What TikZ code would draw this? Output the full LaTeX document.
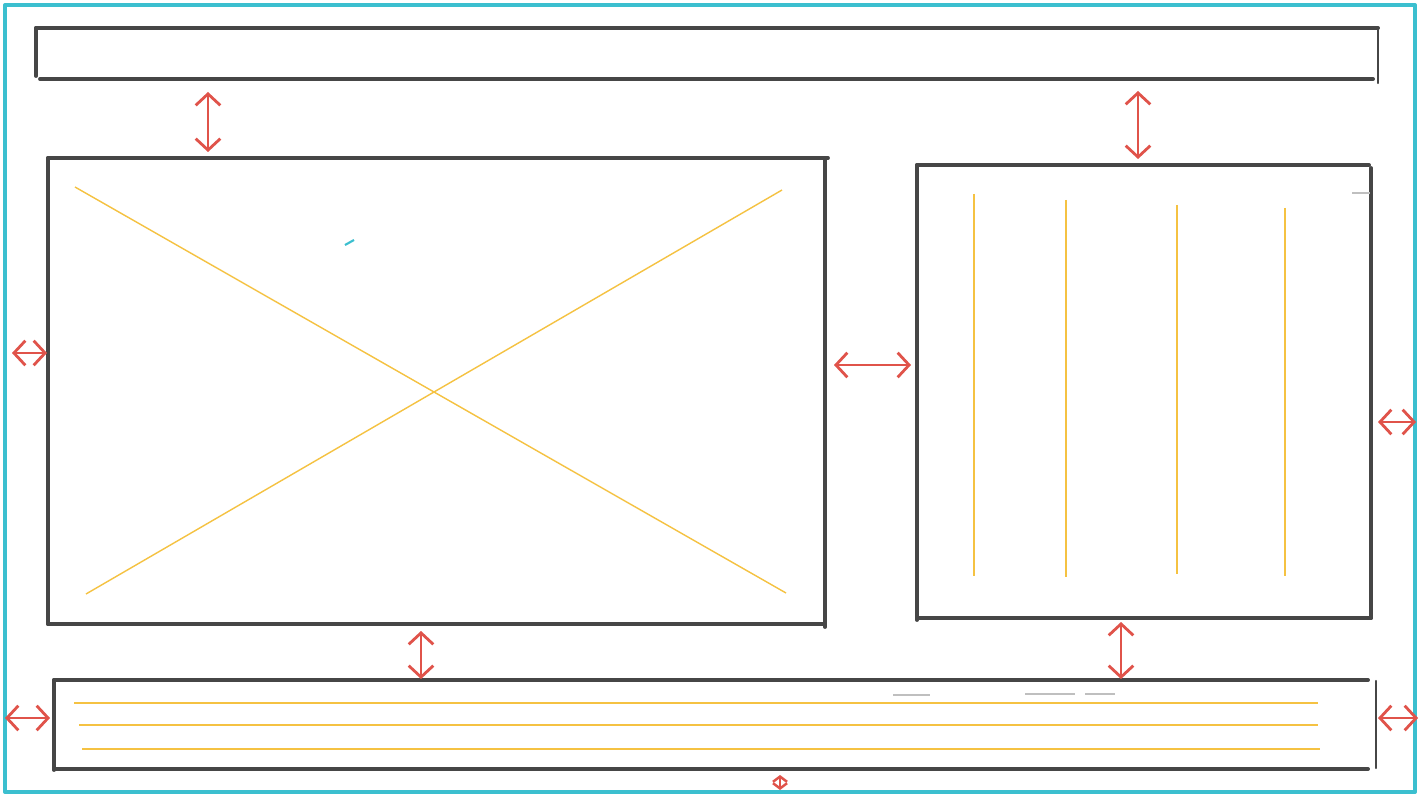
\documentclass[tikz,border=0pt]{standalone}
\usepackage{xcolor}
\usetikzlibrary{arrows.meta}

\definecolor{framecyan}{HTML}{3BBFCF}
\definecolor{pencilgray}{HTML}{464646}
\definecolor{filleryellow}{HTML}{F5C242}
\definecolor{gapred}{HTML}{E0534A}

\tikzset{
  frame/.style={line width=2.3pt, framecyan, line join=round},
  panel/.style={line width=2.2pt, pencilgray, line cap=round},
  filler/.style={line width=0.8pt, filleryellow},
  gap/.style={line width=1.6pt, gapred, line cap=round,
    {Straight Barb[length=6.5pt, width=14pt]}-{Straight Barb[length=6.5pt, width=14pt]}},
  smallgap/.style={line width=1.4pt, gapred, line cap=round,
    {Straight Barb[length=3pt, width=8pt]}-{Straight Barb[length=3pt, width=8pt]}},
  faint/.style={line width=0.6pt, black!25}
}

\begin{document}
\begin{tikzpicture}[x=0.02cm, y=-0.02cm]
  \useasboundingbox[fill=white] (0,0) rectangle (1422,800);

  % Page frame
  \draw[frame] (5,5) rectangle (1415,792);

  % Header bar
  \draw[panel] (36,28) -- (1378,28);
  \draw[panel] (36,28) -- (36,76);
  \draw[panel] (40,79) -- (1373,79);
  \draw[panel, line width=1.4pt] (1378,28) -- (1378,83);

  % Image panel
  \draw[panel] (48,158) -- (828,158);
  \draw[panel] (48,158) -- (48,624);
  \draw[panel] (48,624) -- (825,624);
  \draw[panel] (825,160) -- (825,627);
  \draw[filler] (75,187) -- (786,593);
  \draw[filler] (782,190) -- (86,594);
  \draw[framecyan, line width=1.2pt] (345,245) -- (354,240);

  % Text column panel
  \draw[panel] (917,165) -- (1369,165);
  \draw[panel] (1371,168) -- (1371,618);
  \draw[panel] (917,618) -- (1371,618);
  \draw[panel] (917,165) -- (917,620);
  \draw[faint] (1352,193) -- (1370,193);
  \foreach \x/\a/\b in {974/194/576, 1066/200/577, 1177/205/574, 1285/208/576} {
    \draw[filler] (\x,\a) -- (\x,\b);
  }

  % Footer bar
  \draw[panel] (54,680) -- (1368,680);
  \draw[panel] (54,680) -- (54,770);
  \draw[panel] (54,769) -- (1368,769);
  \draw[panel, line width=1.4pt] (1376,681) -- (1376,768);
  \draw[faint] (893,695) -- (930,695);
  \draw[faint] (1025,694) -- (1075,694);
  \draw[faint] (1085,694) -- (1115,694);
  \draw[filler] (74,703) -- (1318,703);
  \draw[filler] (79,725) -- (1318,725);
  \draw[filler] (82,749) -- (1320,749);

  % Spacing arrows
  \draw[gap] (208,92) -- (208,152);
  \draw[gap] (1138,91) -- (1138,159);
  \draw[gap] (12,353) -- (47,353);
  \draw[gap] (834,365) -- (911,365);
  \draw[gap] (1378,422) -- (1416,422);
  \draw[gap] (421,631) -- (421,679);
  \draw[gap] (1121,622) -- (1121,679);
  \draw[gap] (5,718) -- (50,718);
  \draw[gap] (1378,718) -- (1418,718);
  \draw[smallgap] (780,775) -- (780,790);
\end{tikzpicture}
\end{document}
